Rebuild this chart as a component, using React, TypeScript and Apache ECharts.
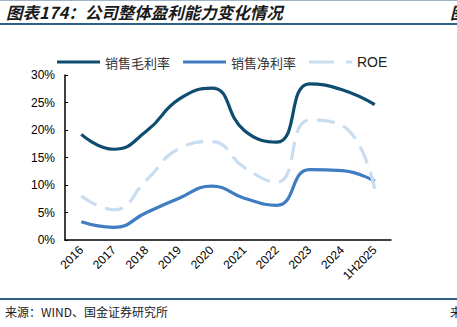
import React, { useEffect, useRef } from "react";
import * as echarts from "echarts";

const categories = ["2016", "2017", "2018", "2019", "2020", "2021", "2022", "2023", "2024", "1H2025"];
const grossMargin = [19.2, 16.5, 19.8, 25.6, 27.6, 19.9, 17.8, 28.4, 27.3, 24.6];
const netMargin = [3.3, 2.3, 5.0, 7.6, 9.8, 7.6, 6.3, 12.8, 12.6, 10.7];
const roe = [8.0, 5.5, 10.9, 16.6, 17.9, 13.2, 10.5, 21.8, 20.8, 9.3];
const seriesNames = ["销售毛利率", "销售净利率", "ROE"];
const titleText = "图表174：公司整体盈利能力变化情况";
const sourceText = "来源：WIND、国金证券研究所";

export default function App() {
  const ref = useRef<HTMLDivElement>(null);
  useEffect(() => {
    if (!ref.current) return;
    const chart = echarts.init(ref.current, null, { renderer: "svg" });
    const cjk = "'Noto Sans CJK SC', sans-serif";
    const latin = "'Liberation Sans', Arial, sans-serif";
    const solidIcon = "path://M0,0H43V3H0Z";
    const dashIcon = "path://M0,0H25V3H0Z M37,0H43V3H37Z";
    chart.setOption({
      animation: false,
      backgroundColor: "#ffffff",
      graphic: [
        { type: "line", shape: { x1: 0, y1: 0.5, x2: 457, y2: 0.5 }, style: { stroke: "#9fb4c8", lineWidth: 1 } },
        { type: "text", left: 6, top: 4, style: { text: titleText, font: `italic bold 16.5px ${cjk}`, fill: "#1a1a1a" } },
        { type: "text", left: 450, top: 4, style: { text: "图", font: `italic bold 16.5px ${cjk}`, fill: "#1a1a1a" } },
        { type: "line", shape: { x1: 0, y1: 24, x2: 457, y2: 24 }, style: { stroke: "#2e5f87", lineWidth: 2 } },
        { type: "line", shape: { x1: 0, y1: 299, x2: 457, y2: 299 }, style: { stroke: "#2e5f87", lineWidth: 2 } },
        { type: "text", left: 5, top: 305, style: { text: sourceText, font: `12px ${cjk}`, fill: "#222" } },
        { type: "text", left: 450, top: 305, style: { text: "来", font: `12px ${cjk}`, fill: "#222" } },
      ],
      legend: {
        left: 52,
        top: 50,
        itemWidth: 43,
        itemHeight: 3,
        itemGap: 13,
        textStyle: { fontSize: 13, fontFamily: cjk, color: "#333" },
        data: [
          { name: seriesNames[0], icon: solidIcon },
          { name: seriesNames[1], icon: solidIcon },
          { name: seriesNames[2], icon: dashIcon, textStyle: { fontFamily: latin, fontSize: 14, color: "#222" } },
        ],
      },
      grid: { left: 65, right: 66, top: 75, bottom: 87 },
      xAxis: {
        type: "category",
        data: categories,
        boundaryGap: true,
        axisLine: { lineStyle: { color: "#000", width: 1.5 } },
        axisTick: { inside: true, length: 4, lineStyle: { color: "#000" } },
        axisLabel: { rotate: 45, fontSize: 12, fontFamily: latin, color: "#000", margin: 8 },
      },
      yAxis: {
        type: "value",
        min: 0,
        max: 30,
        interval: 5,
        splitLine: { show: false },
        axisLine: { show: true, lineStyle: { color: "#000", width: 1.5 } },
        axisTick: { show: true, inside: true, length: 3, lineStyle: { color: "#000" } },
        axisLabel: { formatter: "{value}%", fontSize: 12, fontFamily: latin, color: "#000", margin: 10 },
      },
      series: [
        {
          name: seriesNames[0],
          type: "line",
          data: grossMargin,
          smooth: 0.5,
          symbol: "none",
          lineStyle: { color: "#0e4c70", width: 3.2 },
          itemStyle: { color: "#0e4c70" },
        },
        {
          name: seriesNames[1],
          type: "line",
          data: netMargin,
          smooth: 0.5,
          symbol: "none",
          lineStyle: { color: "#3f7cc0", width: 3.2 },
          itemStyle: { color: "#3f7cc0" },
        },
        {
          name: seriesNames[2],
          type: "line",
          data: roe,
          smooth: 0.5,
          symbol: "none",
          lineStyle: { color: "#c9ddf0", width: 3.2, type: [18, 9] },
          itemStyle: { color: "#c9ddf0" },
        },
      ],
    });
    return () => chart.dispose();
  }, []);
  return (
    <div
      ref={ref}
      style={{ position: "absolute", left: 0, top: 0, width: 457, height: 327, background: "#fff" }}
    />
  );
}
